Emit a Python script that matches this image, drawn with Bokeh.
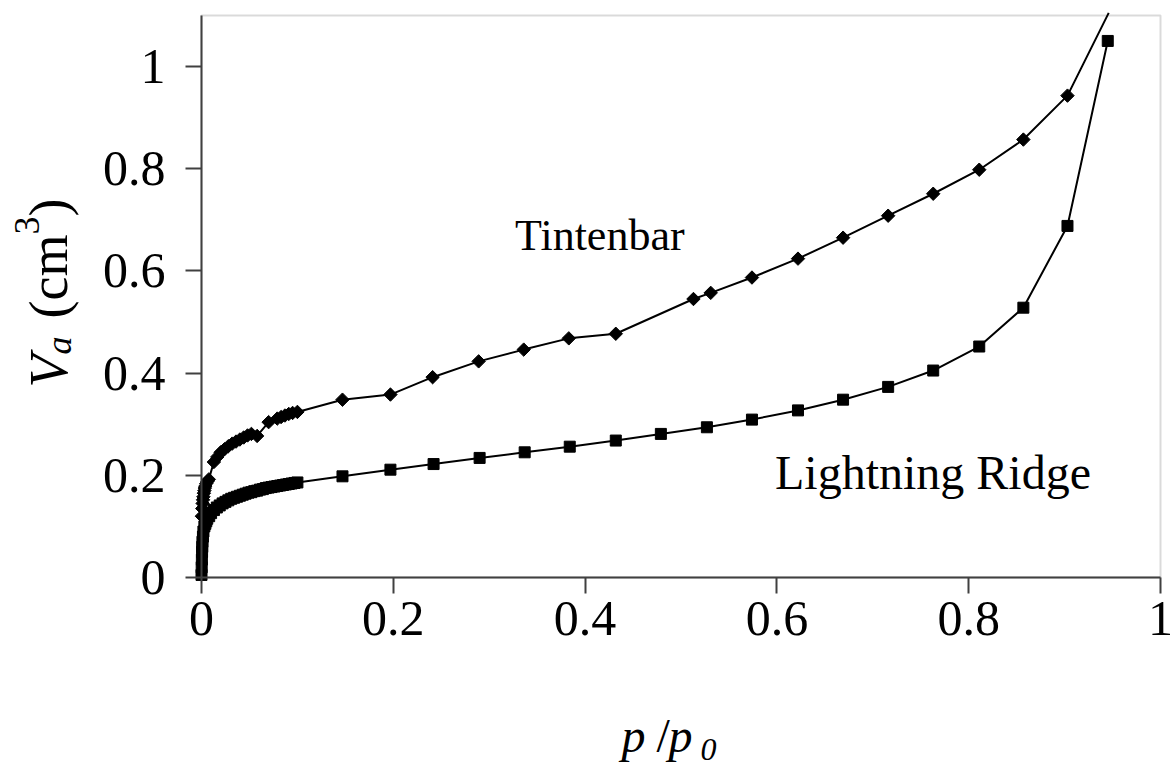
import math
from bokeh.plotting import figure
from bokeh.models import Range1d, FixedTicker, Label, BoxAnnotation
from bokeh.embed import file_html
from bokeh.resources import INLINE

# ---------------- data ----------------
tint_p = [0.0004, 0.0008, 0.0012, 0.0016, 0.002, 0.0025, 0.003, 0.0035, 0.004, 0.005,
          0.0062, 0.0076, 0.0129, 0.0165, 0.020, 0.024, 0.028, 0.032, 0.036, 0.040,
          0.044, 0.048, 0.052, 0.058, 0.070, 0.079, 0.083, 0.087, 0.091, 0.095,
          0.100, 0.147, 0.197, 0.241, 0.289, 0.336, 0.383, 0.432, 0.513, 0.531,
          0.574, 0.622, 0.669, 0.716, 0.763, 0.811, 0.857, 0.903, 0.946]
tint_v = [0.120, 0.135, 0.145, 0.152, 0.158, 0.165, 0.170, 0.175, 0.179, 0.184,
          0.188, 0.192, 0.226, 0.236, 0.245, 0.251, 0.257, 0.262, 0.266, 0.270,
          0.274, 0.278, 0.281, 0.277, 0.304, 0.311, 0.314, 0.317, 0.320, 0.322,
          0.324, 0.348, 0.358, 0.392, 0.423, 0.446, 0.468, 0.477, 0.545, 0.557,
          0.587, 0.624, 0.665, 0.708, 0.751, 0.798, 0.857, 0.943, 1.105]

lr_p = [0.0, 0.0002, 0.0004, 0.0006, 0.0008, 0.001, 0.0015, 0.002, 0.003, 0.004,
        0.005, 0.006, 0.008, 0.010, 0.013, 0.016, 0.019, 0.022, 0.025, 0.028,
        0.031, 0.034, 0.037, 0.040, 0.043, 0.046, 0.049, 0.052, 0.055, 0.058,
        0.061, 0.064, 0.067, 0.070, 0.073, 0.076, 0.079, 0.082, 0.085, 0.088,
        0.091, 0.094, 0.097, 0.100, 0.147, 0.197, 0.242, 0.290, 0.337, 0.384,
        0.432, 0.479, 0.527, 0.574, 0.622, 0.669, 0.716, 0.763, 0.811, 0.857,
        0.903, 0.945]
lr_v = [0.005, 0.020, 0.035, 0.050, 0.060, 0.070, 0.080, 0.090, 0.100, 0.105,
        0.110, 0.115, 0.120, 0.126, 0.132, 0.137, 0.141, 0.145, 0.148, 0.151,
        0.154, 0.156, 0.158, 0.160, 0.162, 0.164, 0.166, 0.167, 0.169, 0.170,
        0.172, 0.173, 0.175, 0.176, 0.177, 0.178, 0.179, 0.180, 0.181, 0.182,
        0.183, 0.184, 0.185, 0.186, 0.198, 0.211, 0.222, 0.234, 0.245, 0.256,
        0.268, 0.281, 0.294, 0.309, 0.327, 0.348, 0.373, 0.405, 0.452, 0.528,
        0.688, 1.050]

ticks = [0, 0.2, 0.4, 0.6, 0.8, 1.0]
tick_labels = ["0", "0.2", "0.4", "0.6", "0.8", "1"]
series_names = ["Tintenbar", "Lightning Ridge"]
V_MAX = 1.1   # top of the plot box

FONT = "Liberation Serif"
W, H = 1173, 771
# plot box: p=0 at x=201px, p=1 at x=1160px; V=0 at y=577px, V=1 at y=66px
X0, XS = 201.0, 959.0
Y0, YS = 577.0, 511.0

p = figure(width=W, height=H,
           x_range=Range1d(-X0 / XS, (W - X0) / XS),
           y_range=Range1d(-(H - Y0) / YS, Y0 / YS),
           output_backend="svg", toolbar_location=None, min_border=0)
p.outline_line_color = None
p.xgrid.visible = False
p.ygrid.visible = False
p.background_fill_color = "white"
p.border_fill_color = "white"

# plot-area box (top / right borders)
p.add_layout(BoxAnnotation(left=0, right=1, bottom=0, top=V_MAX, fill_alpha=0,
                           line_color="#858585", line_width=2, level="underlay"))

for ax in (p.xaxis[0], p.yaxis[0]):
    ax.fixed_location = 0
    ax.ticker = FixedTicker(ticks=ticks)
    ax.major_label_overrides = {t: l for t, l in zip(ticks, tick_labels)}
    ax.axis_line_color = "#404040"
    ax.axis_line_width = 2
    ax.major_tick_line_color = "#404040"
    ax.major_tick_line_width = 2
    ax.major_tick_in = 0
    ax.major_tick_out = 16
    ax.minor_tick_line_color = None
    ax.major_label_text_font = FONT
    ax.major_label_text_font_size = "50px"
    ax.major_label_text_color = "black"
p.xaxis.bounds = (0, 1)
p.yaxis.bounds = (0, V_MAX)
p.yaxis.major_label_standoff = 20
p.xaxis.major_label_standoff = 8

# series (markers only for points inside the plot box)
tin_px = [a for a, b in zip(tint_p, tint_v) if b <= V_MAX]
tin_pv = [b for b in tint_v if b <= V_MAX]
p.line(tint_p, tint_v, line_color="black", line_width=2)
p.scatter(tin_px, tin_pv, marker="square", angle=math.pi / 4, size=9.5,
          color="black")
p.line(lr_p, lr_v, line_color="black", line_width=2)
p.scatter(lr_p, lr_v, marker="square", size=11, color="black")

# series labels
p.add_layout(Label(x=0.327, y=0.670, text=series_names[0], text_font=FONT,
                   text_font_size="44px", text_color="black",
                   text_baseline="alphabetic"))
p.add_layout(Label(x=0.598, y=0.206, text=series_names[1], text_font=FONT,
                   text_font_size="48px", text_color="black",
                   text_baseline="alphabetic"))


def lab(cx, cy, text, size, style="normal", angle=0.0):
    """Title piece placed in canvas pixels (cx from left, cy from top)."""
    p.add_layout(Label(x=cx, y=H - cy, x_units="screen", y_units="screen",
                       text=text, text_font=FONT, text_font_size=size,
                       text_font_style=style, text_color="black",
                       text_baseline="alphabetic", text_align="left",
                       angle=angle))


# x axis title: p /p 0
lab(621, 735, "p", "48px", "italic")
lab(656, 735, "/", "48px")
lab(668, 735, "p", "48px", "italic")
lab(700, 749, "0", "32px", "italic")

# y axis title: V_a (cm^3), rotated
A = math.pi / 2
bx = 48
lab(bx, 387, "V", "54px", "italic", A)
lab(bx + 10, 354, "a", "36px", "italic", A)
lab(bx, 318, "(cm", "54px", "normal", A)
lab(bx - 22, 234, "3", "36px", "normal", A)
lab(bx, 216, ")", "54px", "normal", A)

open("out.html", "w").write(file_html(p, INLINE))
